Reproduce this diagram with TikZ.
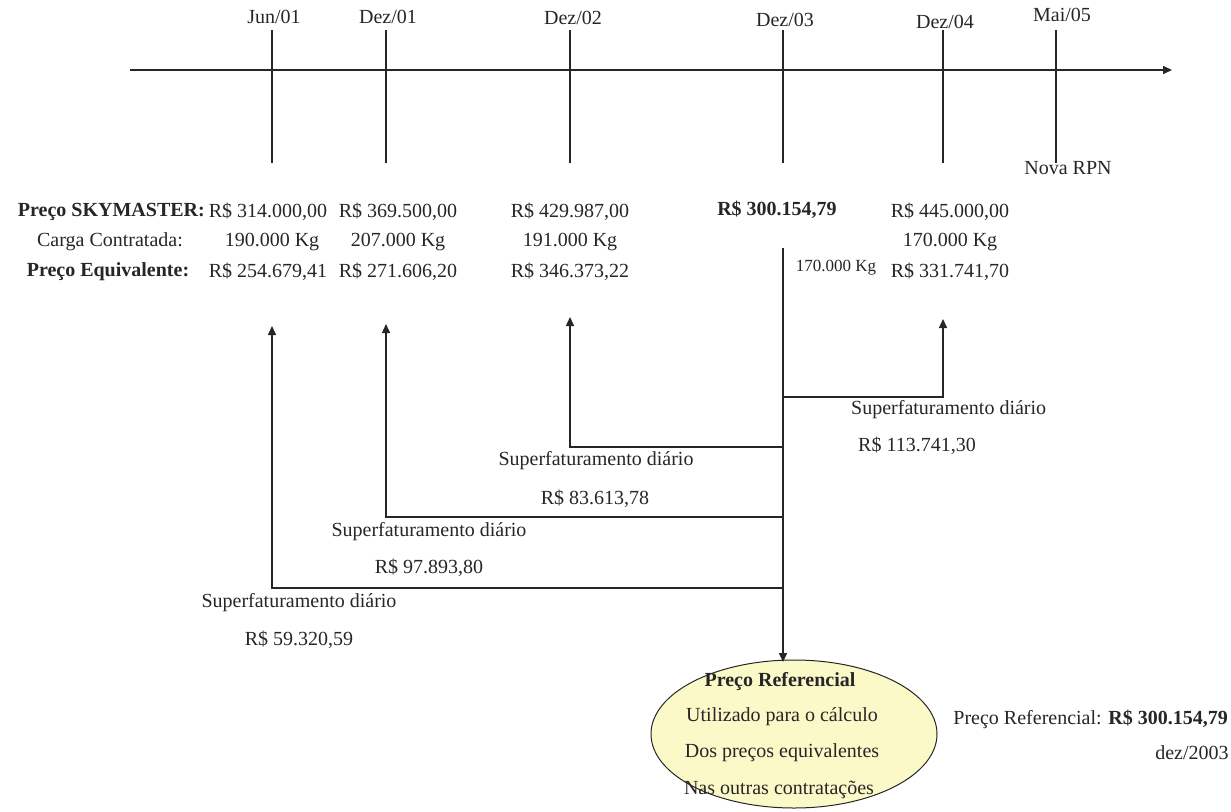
\documentclass[tikz,border=0pt]{standalone}
\usepackage{fontspec}
\setmainfont{Liberation Serif}
\usetikzlibrary{arrows.meta,shapes.geometric}
\definecolor{ellfill}{RGB}{252,249,200}
\begin{document}
\begin{tikzpicture}[x=1pt,y=-1pt,
  ln/.style={line width=1.5pt, draw=black!85},
  arr/.style={ln, -{Triangle[width=8pt,length=9pt]}},
  txt/.style={inner sep=0pt, font=\fontsize{20}{22}\selectfont, text=black!85},
  btxt/.style={txt, font=\fontsize{20}{22}\selectfont\bfseries},
  stxt/.style={txt, font=\fontsize{17}{19}\selectfont},
  refell/.style={ellipse, draw=black!85, line width=1pt, fill=ellfill, minimum width=286pt, minimum height=148pt, inner sep=0pt}]
\useasboundingbox (0,0) rectangle (1231,811);
% timeline
\coordinate (tl) at (130,70); \coordinate (tr) at (1172,70);
\draw[arr] (tl) -- (tr);
% ticks
\foreach \n/\x in {a/272,b/386,c/570,d/783,e/943,f/1056}{
  \coordinate (\n top) at (\x,30); \coordinate (\n bot) at (\x,163);
  \draw[ln] (\n top) -- (\n bot);
}
\node[txt] (la) at (274,17) {Jun/01};
\node[txt] (lb) at (388,17) {Dez/01};
\node[txt] (lc) at (573,18) {Dez/02};
\node[txt] (ld) at (785,20) {Dez/03};
\node[txt] (le) at (945,22) {Dez/04};
\node[txt] (lf) at (1062,15) {Mai/05};
\node[txt] (rpn) at (1068,168) {Nova RPN};
% rows
\node[btxt, anchor=east] (h1) at (205,212) {Preço SKYMASTER:};
\node[txt] (h2) at (110,242) {Carga Contratada:};
\node[btxt] (h3) at (108,272) {Preço Equivalente:};
\node[txt] (a1) at (268,212) {R\$ 314.000,00};
\node[txt] (a2) at (272,242) {190.000 Kg};
\node[txt] (a3) at (268,272) {R\$ 254.679,41};
\node[txt] (b1) at (398,212) {R\$ 369.500,00};
\node[txt] (b2) at (398,242) {207.000 Kg};
\node[txt] (b3) at (398,272) {R\$ 271.606,20};
\node[txt] (c1) at (570,212) {R\$ 429.987,00};
\node[txt] (c2) at (570,242) {191.000 Kg};
\node[txt] (c3) at (570,272) {R\$ 346.373,22};
\node[btxt] (d1) at (777,210) {R\$ 300.154,79};
\node[stxt] (d2) at (836,268) {170.000 Kg};
\node[txt] (e1) at (950,212) {R\$ 445.000,00};
\node[txt] (e2) at (950,242) {170.000 Kg};
\node[txt] (e3) at (950,272) {R\$ 331.741,70};
% main vertical from Dez/03
\coordinate (dstart) at (783,248);
\node[refell] (ref) at (794,734) {};
\coordinate (dend) at (783,662);
\coordinate (j1) at (783,397);
\coordinate (j2) at (783,447);
\coordinate (j3) at (783,517);
\coordinate (j4) at (783,588);
\draw[arr] (dstart) -- (dend);
% branches
\coordinate (e up) at (943,319);
\coordinate (c up) at (570,317);
\coordinate (b up) at (386,324);
\coordinate (a up) at (272,326);
\draw[arr] (j1) -| (e up);
\draw[arr] (j2) -| (c up);
\draw[arr] (j3) -| (b up);
\draw[arr] (j4) -| (a up);
% labels of branches
\node[txt, anchor=west] (s1) at (851,410) {Superfaturamento diário};
\node[txt, anchor=west] (v1) at (858,446) {R\$ 113.741,30};
\node[txt] (s2) at (596,461) {Superfaturamento diário};
\node[txt] (v2) at (595,499) {R\$ 83.613,78};
\node[txt] (s3) at (429,532) {Superfaturamento diário};
\node[txt] (v3) at (429,568) {R\$ 97.893,80};
\node[txt] (s4) at (299,603) {Superfaturamento diário};
\node[txt] (v4) at (299,640) {R\$ 59.320,59};
% ellipse text
\node[btxt] (r1) at (780,682) {Preço Referencial};
\node[txt] (r2) at (782,717) {Utilizado para o cálculo};
\node[txt] (r3) at (782,753) {Dos preços equivalentes};
\node[txt] (r4) at (779,790) {Nas outras contratações};
\node[txt, anchor=east] (pr) at (1228,719) {Preço Referencial: \textbf{R\$ 300.154,79}};
\node[txt] (dz) at (1192,753) {dez/2003};
\end{tikzpicture}
\end{document}
